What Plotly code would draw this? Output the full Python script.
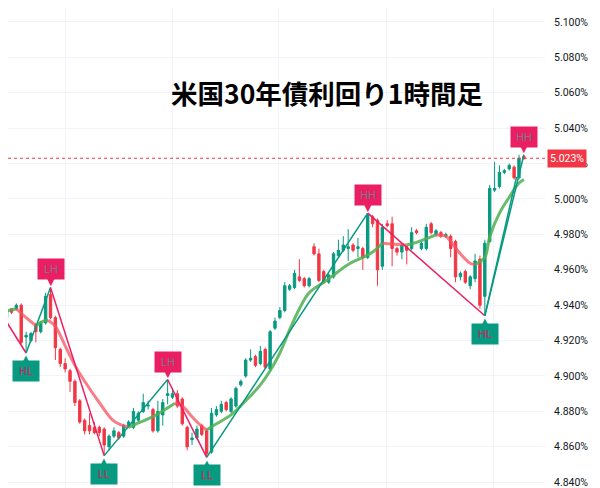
import plotly.graph_objects as go

# ---------------- data ----------------
opens = [4.936,4.933,4.938,4.938,4.940,4.922,4.920,4.929,4.925,4.930,
         4.946,4.933,4.915,4.907,4.903,4.897,4.886,4.875,4.872,4.871,
         4.871,4.870,4.860,4.866,4.868,4.866,4.872,4.871,4.875,4.880,
         4.883,4.881,4.869,4.878,4.889,4.888,4.890,4.887,4.871,4.864,
         4.865,4.872,4.869,4.857,4.878,4.880,4.885,4.880,4.883,4.895,
         4.900,4.909,4.911,4.907,4.915,4.904,4.927,4.933,4.937,4.949,
         4.950,4.956,4.955,4.951,4.973,4.969,4.959,4.953,4.956,4.968,
         4.971,4.972,4.974,4.972,4.972,4.967,4.990,4.988,4.962,4.986,
         4.986,4.972,4.970,4.973,4.972,4.982,4.972,4.972,4.986,4.980,
         4.981,4.979,4.979,4.976,4.956,4.959,4.951,4.955,4.966,4.945,
         4.976,5.005,5.007,5.015,5.017,5.018,5.012,5.024]
highs = [4.937,4.938,4.938,4.941,4.941,4.925,4.925,4.930,4.931,4.947,
         4.950,4.934,4.916,4.910,4.904,4.898,4.887,4.876,4.879,4.874,
         4.872,4.871,4.867,4.871,4.869,4.873,4.875,4.882,4.880,4.890,
         4.886,4.882,4.886,4.887,4.898,4.893,4.892,4.888,4.872,4.868,
         4.872,4.873,4.870,4.882,4.883,4.886,4.886,4.888,4.894,4.898,
         4.910,4.915,4.912,4.917,4.916,4.926,4.933,4.939,4.953,4.952,
         4.960,4.966,4.956,4.956,4.975,4.972,4.960,4.958,4.970,4.977,
         4.979,4.983,4.975,4.978,4.973,4.992,4.991,4.989,4.986,4.988,
         4.990,4.973,4.975,4.974,4.984,4.983,4.976,4.986,4.987,4.983,
         4.982,4.981,4.980,4.977,4.959,4.960,4.957,4.969,4.968,4.977,
         5.008,5.021,5.019,5.017,5.020,5.019,5.025,5.025]
lows = [4.931,4.932,4.935,4.937,4.918,4.913,4.919,4.919,4.924,4.929,
        4.932,4.909,4.905,4.902,4.891,4.883,4.873,4.867,4.867,4.867,
        4.866,4.855,4.858,4.865,4.864,4.865,4.871,4.870,4.874,4.879,
        4.881,4.868,4.868,4.872,4.884,4.887,4.882,4.872,4.858,4.861,
        4.864,4.866,4.854,4.856,4.877,4.879,4.880,4.879,4.882,4.894,
        4.899,4.908,4.905,4.906,4.904,4.903,4.926,4.932,4.936,4.948,
        4.949,4.953,4.950,4.950,4.968,4.953,4.952,4.952,4.955,4.967,
        4.970,4.965,4.970,4.967,4.960,4.966,4.984,4.951,4.960,4.984,
        4.962,4.968,4.966,4.963,4.971,4.980,4.971,4.971,4.980,4.979,
        4.978,4.978,4.967,4.953,4.954,4.952,4.949,4.953,4.938,4.934,
        4.975,5.004,5.006,5.014,5.016,5.011,5.011,5.022]
closes = [4.932,4.937,4.936,4.940,4.919,4.923,4.924,4.925,4.930,4.945,
          4.933,4.916,4.907,4.904,4.897,4.885,4.874,4.869,4.869,4.868,
          4.868,4.861,4.866,4.869,4.865,4.872,4.874,4.880,4.879,4.885,
          4.8835,4.869,4.880,4.885,4.890,4.890,4.883,4.873,4.860,4.865,
          4.870,4.867,4.856,4.879,4.881,4.884,4.881,4.887,4.893,4.897,
          4.909,4.910,4.906,4.914,4.905,4.925,4.931,4.937,4.951,4.951,
          4.958,4.954,4.951,4.955,4.969,4.954,4.953,4.957,4.969,4.971,
          4.974,4.973,4.971,4.973,4.967,4.991,4.986,4.960,4.984,4.985,
          4.972,4.970,4.974,4.971,4.981,4.981,4.975,4.984,4.981,4.982,
          4.979,4.980,4.972,4.956,4.958,4.953,4.956,4.965,4.940,4.975,
          5.006,5.006,5.015,5.016,5.019,5.012,5.023,5.023]
bar_index = list(range(len(closes)))

# moving average (bar index, value)
ma_idx = [0, 3, 5, 7, 8.5, 9.5, 11, 13, 15, 17, 20, 23, 26, 28, 31, 34, 35.5,
          37, 39, 41, 42, 44, 47, 50, 53, 55, 57, 59, 61, 63, 66, 68, 71, 74,
          76, 78, 80, 83, 85, 89, 91, 92, 94, 96, 97, 99, 100, 102, 104, 106, 107]
ma_val = [4.936, 4.938, 4.933, 4.9285, 4.931, 4.9315, 4.928, 4.917, 4.906,
          4.897, 4.885, 4.8745, 4.871, 4.8735, 4.877, 4.882, 4.8846, 4.883,
          4.877, 4.8715, 4.8695, 4.873, 4.878, 4.886, 4.895, 4.903, 4.913,
          4.926, 4.938, 4.947, 4.953, 4.957, 4.963, 4.967, 4.970, 4.975,
          4.9745, 4.974, 4.9755, 4.9797, 4.979, 4.976, 4.969, 4.9637, 4.963,
          4.967, 4.9787, 4.992, 5.001, 5.009, 5.011]

# zigzag pivots (bar index, value, label)
zz_idx = [-3, 5, 10, 21, 34, 42, 75, 99, 107]
zz_val = [4.948, 4.913, 4.950, 4.855, 4.898, 4.854, 4.992, 4.934, 5.025]
zz_lbl = [None, "HL", "LH", "LL", "LH", "LL", "HH", "HL", "HH"]
zz_extra = [(99, 4.934), (105.5, 5.0125)]

last_price = 5.023
y_ticks = [4.84, 4.86, 4.88, 4.90, 4.92, 4.94, 4.96, 4.98, 5.00, 5.02, 5.04, 5.06, 5.08, 5.10]
day_lines = [13.0, 34.9, 56.8, 78.8, 100.7]
title = "米国30年債利回り1時間足"

# ---------------- styles ----------------
GREEN = "#089981"
RED = "#F23645"
PINK = "#E91E63"
MA_UP = "rgba(76,175,80,0.85)"
MA_DN = "rgba(247,82,95,0.75)"

fig = go.Figure()

fig.add_trace(go.Candlestick(
    x=bar_index, open=opens, high=highs, low=lows, close=closes,
    increasing=dict(line=dict(color=GREEN, width=1), fillcolor=GREEN),
    decreasing=dict(line=dict(color=RED, width=1), fillcolor=RED),
    whiskerwidth=0, hoverinfo="skip", showlegend=False))

# moving average, coloured by direction
runs = []
cur = [0]
cur_dir = None
for k in range(1, len(ma_idx)):
    d = ma_val[k] >= ma_val[k - 1]
    if cur_dir is None or d == cur_dir:
        cur.append(k)
        cur_dir = d
    else:
        runs.append((cur, cur_dir))
        cur = [k - 1, k]
        cur_dir = d
runs.append((cur, cur_dir))
for pts, up in runs:
    fig.add_trace(go.Scatter(
        x=[ma_idx[p] for p in pts], y=[ma_val[p] for p in pts],
        mode="lines", line=dict(color=MA_UP if up else MA_DN, width=3, shape="spline"),
        hoverinfo="skip", showlegend=False))

# zigzag legs
for k in range(1, len(zz_idx)):
    up = zz_val[k] > zz_val[k - 1]
    fig.add_trace(go.Scatter(
        x=[zz_idx[k - 1], zz_idx[k]], y=[zz_val[k - 1], zz_val[k]],
        mode="lines", line=dict(color=GREEN if up else PINK, width=1.5),
        hoverinfo="skip", showlegend=False))
fig.add_trace(go.Scatter(
    x=[p[0] for p in zz_extra], y=[p[1] for p in zz_extra],
    mode="lines", line=dict(color=GREEN, width=1.5),
    hoverinfo="skip", showlegend=False))

# pivot labels
for xi, v, lab in zip(zz_idx, zz_val, zz_lbl):
    if lab is None:
        continue
    high = lab in ("LH", "HH")
    box = PINK if high else GREEN
    txt = "#7E7885" if high else "#D81B60"
    sgn = 1 if high else -1
    fig.add_annotation(x=xi, y=v, text=lab, showarrow=False,
                       yshift=sgn * 18, bgcolor=box, width=24, height=18,
                       font=dict(family="Roboto", size=11, color=txt),
                       borderpad=1)
    fig.add_annotation(x=xi, y=v, text="▼" if high else "▲", showarrow=False,
                       yshift=sgn * 6, font=dict(family="DejaVu Sans", size=10, color=box))

# last price line + tag
fig.add_shape(type="line", xref="paper", x0=0, x1=1, y0=last_price, y1=last_price,
              line=dict(color=RED, width=1, dash="dot"))
fig.add_annotation(xref="paper", x=1.0, y=last_price, xanchor="left", yanchor="middle",
                   showarrow=False, text=f"{last_price:.3f}%", bgcolor=RED, xshift=2,
                   font=dict(family="Roboto", size=10.5, color="white"), borderpad=2)

# title
fig.add_annotation(xref="paper", yref="paper", x=0.594, y=0.826,
                   xanchor="center", yanchor="middle", showarrow=False,
                   text=f"<b>{title}</b>",
                   font=dict(family="Noto Sans CJK JP", size=26.5, color="#000000"))

# the page body adds an 8px offset; the plot area is laid out to compensate
fig.update_layout(
    width=600, height=488,
    margin=dict(l=0, r=63, t=0, b=0, autoexpand=False),
    paper_bgcolor="white", plot_bgcolor="white",
    showlegend=False,
    xaxis=dict(range=[1.29, 111.33], showticklabels=False, tickvals=day_lines,
               showgrid=True, gridcolor="#F0F3FA", zeroline=False, automargin=False,
               rangeslider=dict(visible=False), fixedrange=True),
    yaxis=dict(side="right", range=[4.8322, 5.1079], tickvals=y_ticks,
               ticktext=[f"{t:.3f}%" for t in y_ticks], automargin=False,
               showgrid=True, gridcolor="#F0F3FA", zeroline=False,
               ticks="", ticklabelstandoff=8,
               tickfont=dict(family="Roboto", size=10.5, color="#131722")),
)

fig.write_html("out.html")
